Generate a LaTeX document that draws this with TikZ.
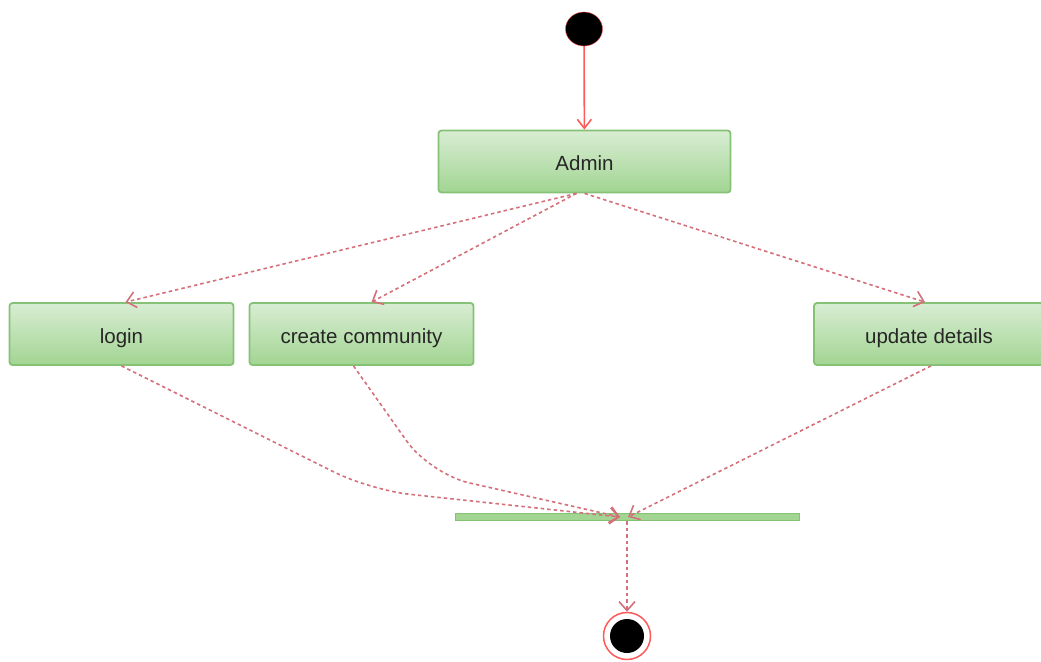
\documentclass[tikz,border=0pt]{standalone}
\usepackage{fontspec}
\setmainfont{Liberation Sans}
\usetikzlibrary{arrows.meta,positioning,shapes.geometric}
\definecolor{boxtop}{HTML}{D8EDD3}
\definecolor{boxbot}{HTML}{A2D592}
\definecolor{boxline}{HTML}{86C276}
\definecolor{flow}{HTML}{D4707A}
\definecolor{startred}{HTML}{FF5A5A}
\begin{document}
\begin{tikzpicture}[x=1pt,y=-1pt,
  act/.style={draw=boxline,line width=1.8pt,rounded corners=3pt,top color=boxtop,bottom color=boxbot,minimum height=62pt,text height=18pt,text depth=0pt,font=\fontsize{20.5}{24}\selectfont,text=black!85},
  flw/.style={draw=flow,dash pattern=on 3.5pt off 3pt,line width=1.6pt,-{Straight Barb[length=9pt,width=16pt]},rounded corners=40pt}]
\useasboundingbox (0,0) rectangle (1041,661);
\node[ellipse,fill=black,draw=red!70,minimum width=37pt,minimum height=34pt,inner sep=0] (start) at (584,29) {};
\node[act,minimum width=292pt] (admin) at (584.5,161.5) {Admin};
\node[act,minimum width=224pt] (login) at (121.5,334) {login};
\node[act,minimum width=224pt] (create) at (361.5,334) {create community};
\node[act,minimum width=230pt] (update) at (929,334) {update details};
\node[draw=boxline,fill=boxbot,minimum width=344pt,minimum height=7pt,inner sep=0,line width=1pt] (join) at (627,517) {};
\node[circle,draw=startred,line width=1.5pt,minimum size=47pt,inner sep=0] (stop) at (627,636) {};
\node[circle,fill=black,minimum size=34pt,inner sep=0] (stopdot) at (stop) {};
% bends of the merging flows
\coordinate (benda) at (370,490);
\coordinate (bendb) at (430,474);
\coordinate (joinin) at ([xshift=-7pt]join.center);
\draw[startred,line width=1.6pt,-{Straight Barb[length=9pt,width=14pt]}] (start) -- (admin);
\draw[flw] ([xshift=-8pt]admin.south) -- ([xshift=4pt]login.north);
\draw[flw] ([xshift=-8pt]admin.south) -- ([xshift=10pt]create.north);
\draw[flw] (admin.south) -- ([xshift=-4pt]update.north);
\draw[flw] (login.south) -- (benda) -- (joinin);
\draw[flw] ([xshift=-8pt]create.south) -- (bendb) -- (joinin);
\draw[flw] ([xshift=2pt]update.south) -- ([xshift=1pt]join.center);
\draw[flw] (join) -- (stop);
\end{tikzpicture}
\end{document}
